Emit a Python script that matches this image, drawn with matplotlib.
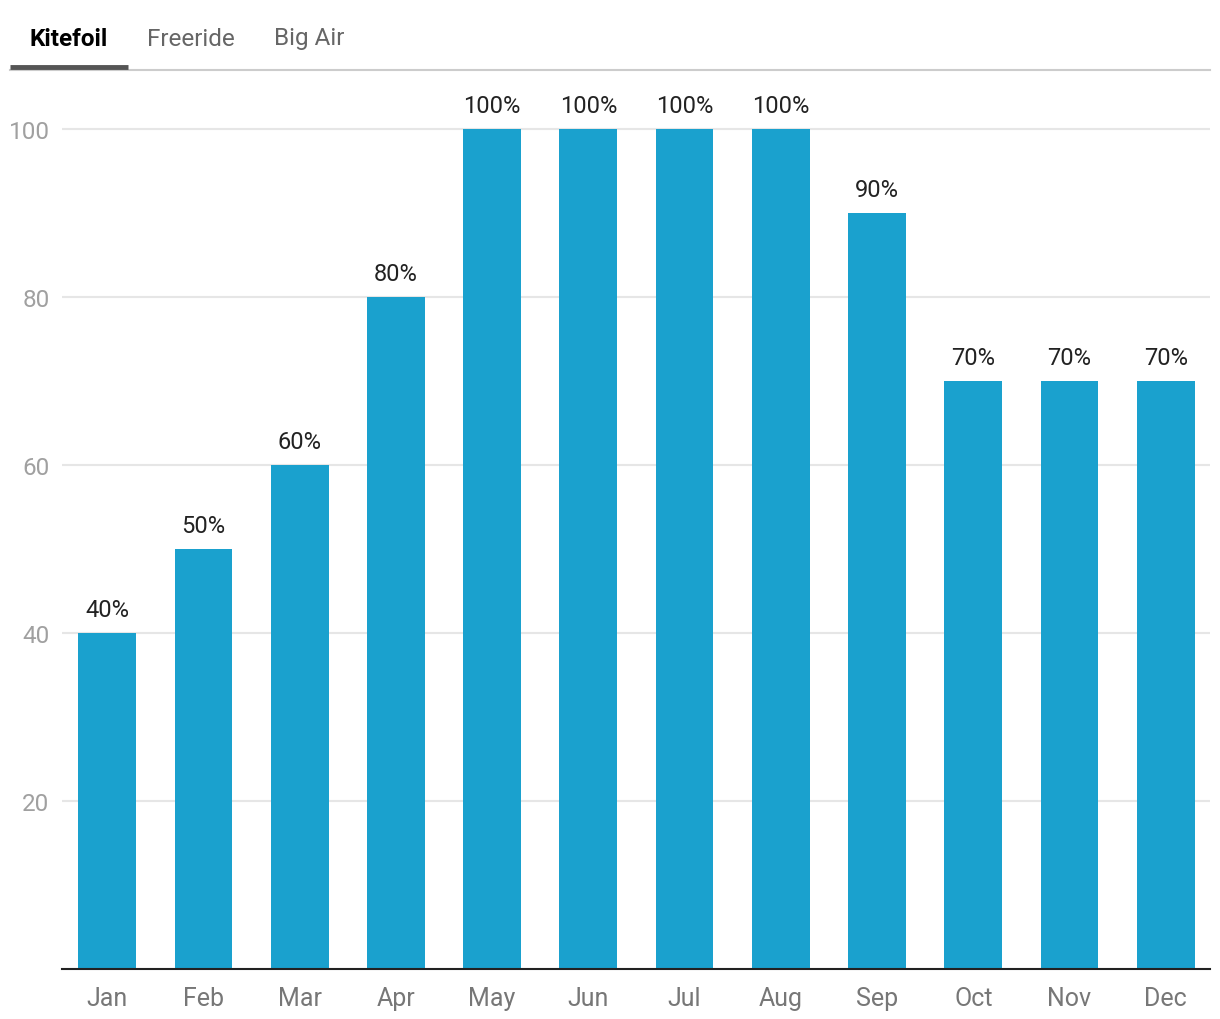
import matplotlib.pyplot as plt
from matplotlib.lines import Line2D

plt.rcParams['font.family'] = ['Roboto', 'DejaVu Sans']

months = ['Jan', 'Feb', 'Mar', 'Apr', 'May', 'Jun', 'Jul', 'Aug', 'Sep', 'Oct', 'Nov', 'Dec']
kitefoil = [40, 50, 60, 80, 100, 100, 100, 100, 90, 70, 70, 70]
tabs = ['Kitefoil', 'Freeride', 'Big Air']
y_ticks = [20, 40, 60, 80, 100]

W, H = 1220, 1020
fig = plt.figure(figsize=(W / 100, H / 100), dpi=100)

# plot area in pixels: left 62, right 1210, bottom 970, 100 -> 130
left, right, bottom = 62, 1210, 970
ymax = 105
top = bottom - ymax * 8.4
ax = fig.add_axes([left / W, 1 - bottom / H, (right - left) / W, (bottom - top) / H])

x = range(len(months))
ax.bar(x, kitefoil, width=0.6, color='#1aa1ce', zorder=2)
for xi, v in zip(x, kitefoil):
    ax.text(xi, v + 1.4, f'{v}%', ha='center', va='bottom', fontsize=17, color='#222222')

ax.set_xlim(-0.47, len(months) - 1 + 0.46)
ax.set_ylim(0, ymax)
ax.set_yticks(y_ticks)
ax.set_xticks(list(x))
ax.set_xticklabels(months)
ax.grid(axis='y', color='#e6e6e6', linewidth=1.5, zorder=0)
ax.tick_params(axis='y', length=0, pad=9, labelsize=17.5, labelcolor='#a0a0a0')
ax.tick_params(axis='x', length=0, pad=12, labelsize=18, labelcolor='#777777')
for s in ['top', 'right', 'left']:
    ax.spines[s].set_visible(False)
ax.spines['bottom'].set_color('#222222')
ax.spines['bottom'].set_linewidth(1.5)
ax.spines['bottom'].set_zorder(3)

# tabs header
tab_x = [69, 191, 309]
for i, (t, tx) in enumerate(zip(tabs, tab_x)):
    fig.text(tx / W, 1 - 39 / H, t, ha='center', va='center', fontsize=17.5,
             color='#000000' if i == 0 else '#666666',
             fontweight='bold' if i == 0 else 'normal')
fig.add_artist(Line2D([10 / W, 1210 / W], [1 - 71 / H, 1 - 71 / H], color='#cccccc', linewidth=1.5))
fig.add_artist(Line2D([10 / W, 128 / W], [1 - 68 / H, 1 - 68 / H], color='#555555', linewidth=3.5,
                      solid_capstyle='butt'))

fig.savefig('out.png', dpi=100)
